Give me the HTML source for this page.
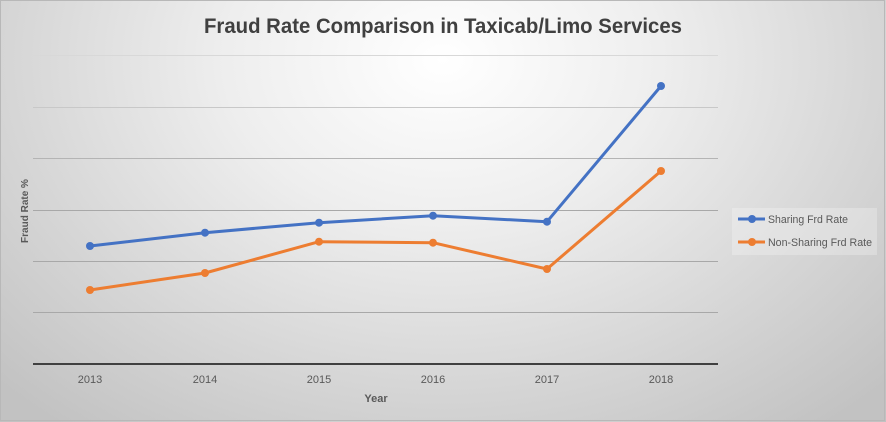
<!DOCTYPE html>
<html>
<head>
<meta charset="utf-8">
<style>
html,body{margin:0;padding:0;}
body{width:886px;height:422px;overflow:hidden;}
svg{display:block;}
</style>
</head>
<body>
<svg width="886" height="422" viewBox="0 0 886 422" xmlns="http://www.w3.org/2000/svg">
  <defs>
    <radialGradient id="bg" cx="443" cy="60" r="620" gradientUnits="userSpaceOnUse" gradientTransform="translate(443 60) scale(1 0.75) translate(-443 -60)">
      <stop offset="0" stop-color="#ffffff"/>
      <stop offset="0.35" stop-color="#eeeeee"/>
      <stop offset="0.7" stop-color="#d6d6d6"/>
      <stop offset="1" stop-color="#c2c2c2"/>
    </radialGradient>
  </defs>
  <rect x="0" y="0" width="886" height="422" fill="url(#bg)"/>
  <rect x="0.5" y="0.5" width="884" height="420" fill="none" stroke="#b8b8b8" stroke-width="1"/>

  <!-- Title -->
  <text x="443" y="33" text-anchor="middle" font-family="Liberation Sans, sans-serif" font-size="21" font-weight="bold" fill="#404040" textLength="478" lengthAdjust="spacingAndGlyphs">Fraud Rate Comparison in Taxicab/Limo Services</text>

  <!-- Gridlines -->
  <g stroke="#a8a8a8" stroke-width="1">
    <line x1="33" y1="55.5" x2="718" y2="55.5" stroke="#d8d8d8"/>
    <line x1="33" y1="107.5" x2="718" y2="107.5" stroke="#c8c8c8"/>
    <line x1="33" y1="158.5" x2="718" y2="158.5" stroke="#b4b4b4"/>
    <line x1="33" y1="210.5" x2="718" y2="210.5"/>
    <line x1="33" y1="261.5" x2="718" y2="261.5"/>
    <line x1="33" y1="312.5" x2="718" y2="312.5"/>
  </g>
  <line x1="33" y1="364" x2="718" y2="364" stroke="#404040" stroke-width="2"/>

  <!-- Series: Sharing -->
  <polyline points="90,246 205,232.7 319,222.7 433,215.7 547,221.7 661,86" fill="none" stroke="#4472c4" stroke-width="3" stroke-linejoin="round"/>
  <g fill="#4472c4">
    <circle cx="90" cy="246" r="4"/>
    <circle cx="205" cy="232.7" r="4"/>
    <circle cx="319" cy="222.7" r="4"/>
    <circle cx="433" cy="215.7" r="4"/>
    <circle cx="547" cy="221.7" r="4"/>
    <circle cx="661" cy="86" r="4"/>
  </g>

  <!-- Series: Non-Sharing -->
  <polyline points="90,290 205,273 319,241.7 433,242.7 547,269 661,171" fill="none" stroke="#ed7d31" stroke-width="3" stroke-linejoin="round"/>
  <g fill="#ed7d31">
    <circle cx="90" cy="290" r="4"/>
    <circle cx="205" cy="273" r="4"/>
    <circle cx="319" cy="241.7" r="4"/>
    <circle cx="433" cy="242.7" r="4"/>
    <circle cx="547" cy="269" r="4"/>
    <circle cx="661" cy="171" r="4"/>
  </g>

  <!-- X labels -->
  <g font-family="Liberation Sans, sans-serif" font-size="11" fill="#595959" text-anchor="middle">
    <text x="90" y="383">2013</text>
    <text x="205" y="383">2014</text>
    <text x="319" y="383">2015</text>
    <text x="433" y="383">2016</text>
    <text x="547" y="383">2017</text>
    <text x="661" y="383">2018</text>
  </g>
  <text x="376" y="402" text-anchor="middle" font-family="Liberation Sans, sans-serif" font-size="11" font-weight="bold" fill="#595959">Year</text>
  <text transform="translate(28 211) rotate(-90)" text-anchor="middle" font-family="Liberation Sans, sans-serif" font-size="10" font-weight="bold" fill="#595959">Fraud Rate %</text>

  <!-- Legend -->
  <rect x="732" y="208" width="145" height="47" fill="#ffffff" fill-opacity="0.25"/>
  <line x1="738" y1="219" x2="765" y2="219" stroke="#4472c4" stroke-width="3"/>
  <circle cx="752" cy="219" r="4" fill="#4472c4"/>
  <line x1="738" y1="242" x2="765" y2="242" stroke="#ed7d31" stroke-width="3"/>
  <circle cx="752" cy="242" r="4" fill="#ed7d31"/>
  <g font-family="Liberation Sans, sans-serif" font-size="11" fill="#595959">
    <text x="768" y="223" textLength="80" lengthAdjust="spacingAndGlyphs">Sharing Frd Rate</text>
    <text x="768" y="246" textLength="104" lengthAdjust="spacingAndGlyphs">Non-Sharing Frd Rate</text>
  </g>
</svg>
</body>
</html>
